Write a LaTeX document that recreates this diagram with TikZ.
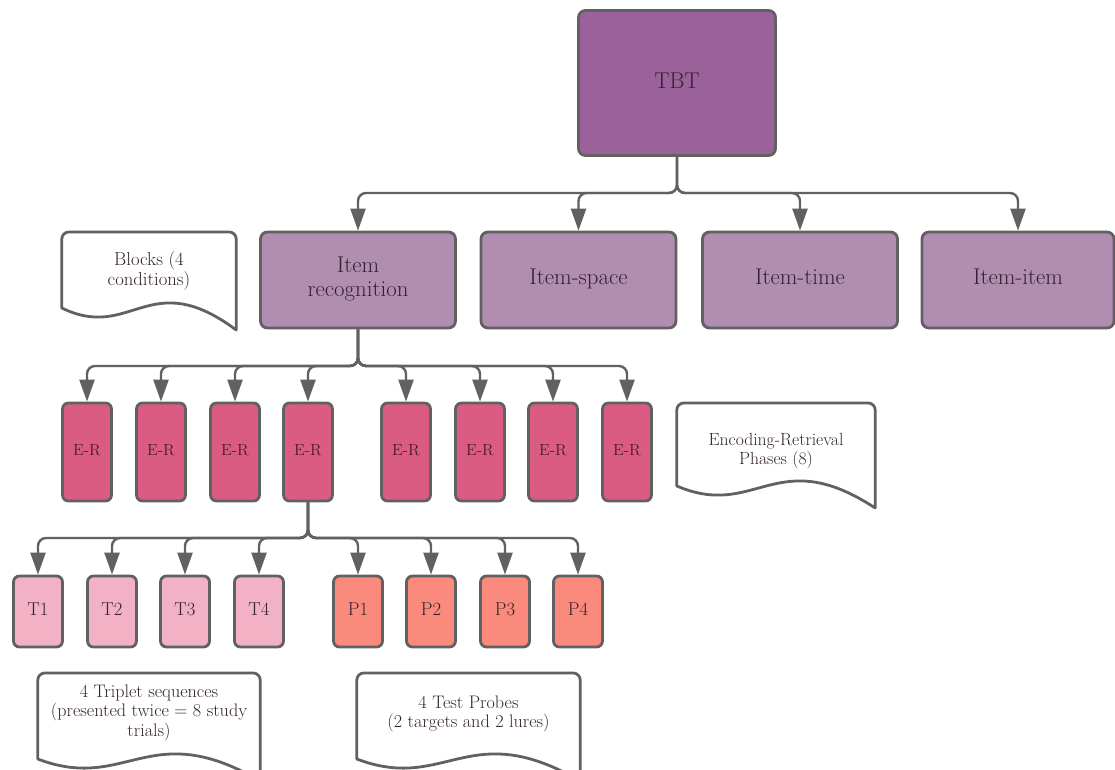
\documentclass[tikz,border=0pt]{standalone}
\usepackage{graphicx}
\usetikzlibrary{arrows.meta,calc}
\definecolor{linec}{HTML}{616161}
\definecolor{tbtc}{HTML}{9B619A}
\definecolor{midc}{HTML}{B18DB2}
\definecolor{erc}{HTML}{DA5C82}
\definecolor{tc}{HTML}{F3B1C6}
\definecolor{pc}{HTML}{FA8A7B}
\definecolor{txtc}{HTML}{33232F}
\definecolor{ertxt}{HTML}{4E1A2D}
\newcommand\stxt[2]{\scalebox{#1}{\begin{tabular}{@{}c@{}}#2\end{tabular}}}
\tikzset{
  box/.style={draw=linec, line width=2.8pt, rounded corners=7pt, text=txtc, align=center},
  bigbox/.style={box, fill=tbtc, minimum width=197pt, minimum height=145pt, font=\fontsize{20.74}{25}\selectfont},
  midbox/.style={box, fill=midc, minimum width=195pt, minimum height=96pt, font=\fontsize{20.74}{22}\selectfont},
  erbox/.style={box, fill=erc, minimum width=49pt, minimum height=98pt, rounded corners=6pt, text=ertxt, font=\fontsize{14.4}{17}\selectfont},
  tbox/.style={box, fill=tc, minimum width=49pt, minimum height=71pt, rounded corners=6pt, font=\fontsize{17.28}{20}\selectfont},
  pbox/.style={box, fill=pc, minimum width=49pt, minimum height=71pt, rounded corners=6pt, font=\fontsize{17.28}{20}\selectfont},
  docnode/.style={draw=none, text=txtc, align=center, anchor=north, inner sep=0pt, font=\fontsize{17.28}{18}\selectfont},
  docline/.style={draw=linec, line width=2.8pt, line join=round},
  conn/.style={draw=linec, line width=2.4pt, rounded corners=8pt, -{Triangle[length=22pt,width=15pt]}}
}
\newcommand\docshape[2]{%
  \draw[docline] let \p1=(#1.north west), \p2=(#1.north east), \n1={\x2-\x1} in
    (\x1,\y1-#2+22) -- (\x1,\y1-7) arc[start angle=180,end angle=90,radius=7pt]
    -- (\x2-7,\y1) arc[start angle=90,end angle=0,radius=7pt]
    -- (\x2,\y1-#2) .. controls (\x1+0.5*\n1,\y1-#2+65) and (\x1+0.4*\n1,\y1-#2-12) .. (\x1,\y1-#2+22) -- cycle;}
\begin{document}
\begin{tikzpicture}[x=1pt,y=-1pt]
\useasboundingbox (0,0) rectangle (1115,770);
% top
\node[bigbox] (tbt) at (677,83) {\stxt{1.1}{TBT}};
% row 2
\node[midbox] (ir) at (358,280) {\stxt{1.1}{Item\\recognition}};
\node[midbox] (is) at (578.5,280) {\stxt{1.1}{Item-space}};
\node[midbox] (it) at (800,280) {\stxt{1.1}{Item-time}};
\node[midbox, minimum width=192pt] (ii) at (1018,280) {\stxt{1.1}{Item-item}};
% blocks doc
\node[docnode, minimum width=174pt, minimum height=78pt] (blocks) at (149,232) {\stxt{1.08}{Blocks (4\\conditions)}};
\docshape{blocks}{98}
% row 3
\foreach \n/\x in {1/87,2/161,3/235,4/308,5/406,6/480,7/553,8/627}{
  \node[erbox] (er\n) at (\x,452) {\stxt{1.12}{E-R}};
}
\node[docnode, minimum width=198pt, minimum height=96pt] (encdoc) at (776,403) {\stxt{1.02}{Encoding-Retrieval\\Phases (8)}};
\docshape{encdoc}{105}
% row 4
\node[tbox] (t1) at (38,611.5) {\stxt{1.08}{T1}};
\node[tbox] (t2) at (112,611.5) {\stxt{1.08}{T2}};
\node[tbox] (t3) at (185,611.5) {\stxt{1.08}{T3}};
\node[tbox] (t4) at (259,611.5) {\stxt{1.08}{T4}};
\node[pbox] (p1) at (358,611.5) {\stxt{1.08}{P1}};
\node[pbox] (p2) at (431,611.5) {\stxt{1.08}{P2}};
\node[pbox] (p3) at (505,611.5) {\stxt{1.08}{P3}};
\node[pbox] (p4) at (578,611.5) {\stxt{1.08}{P4}};
\node[docnode, minimum width=222pt, minimum height=80pt] (tripdoc) at (149,673) {\stxt{1.05}{4 Triplet sequences\\(presented twice = 8 study\\trials)}};
\docshape{tripdoc}{108}
\node[docnode, minimum width=223pt, minimum height=82pt] (probedoc) at (468.5,673) {\stxt{1.05}{4 Test Probes\\(2 targets and 2 lures)}};
\docshape{probedoc}{108}
% connectors
\foreach \c in {ir,is,it,ii}{
  \draw[conn] (tbt.south) -- (tbt.south |- 0,193) -| (\c.north);
}
\foreach \n in {1,...,8}{
  \draw[conn] (ir.south) -- (ir.south |- 0,366) -| (er\n.north);
}
\foreach \c in {t1,t2,t3,t4,p1,p2,p3,p4}{
  \draw[conn] (er4.south) -- (er4.south |- 0,538) -| (\c.north);
}
\end{tikzpicture}
\end{document}
